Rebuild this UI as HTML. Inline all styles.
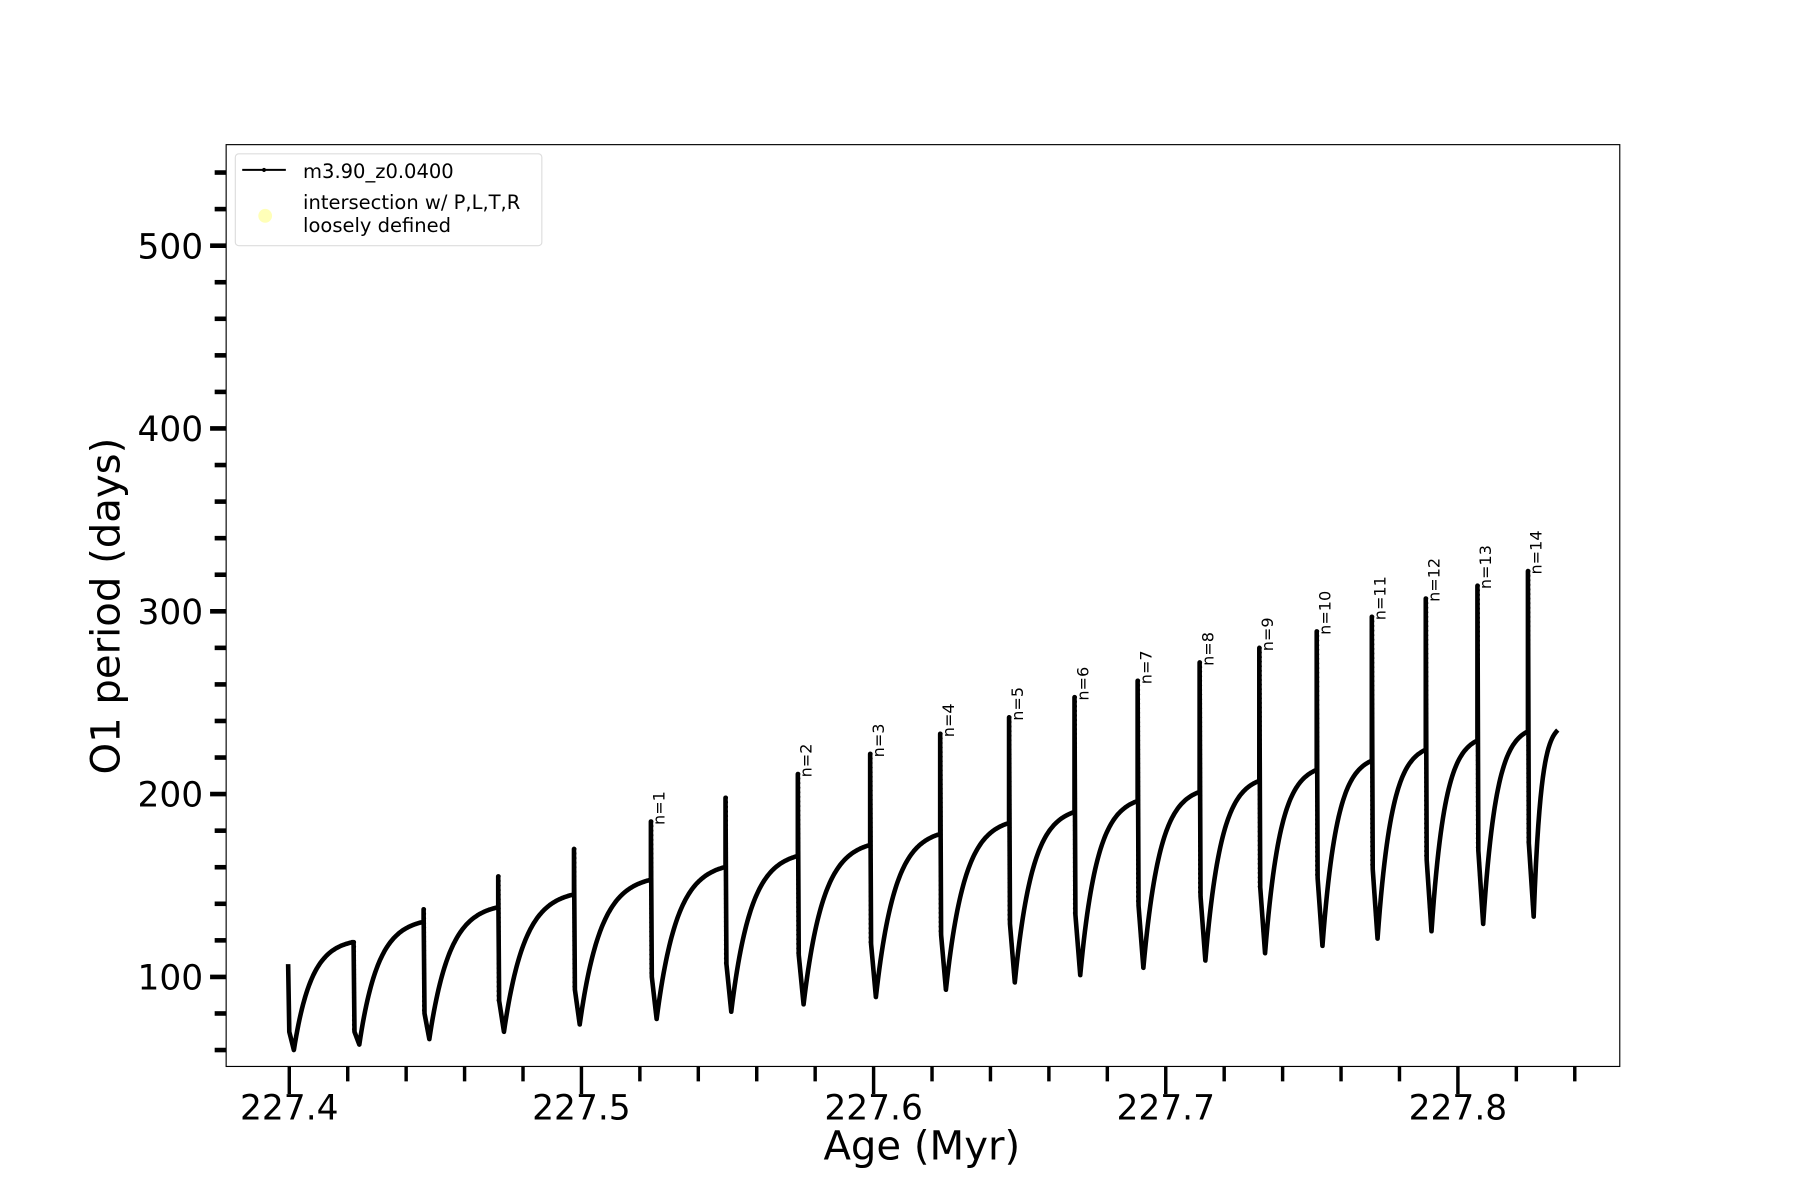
<!DOCTYPE html>
<html><head><meta charset="utf-8"><style>
html,body{margin:0;padding:0;background:#fff;width:1800px;height:1200px;overflow:hidden}
svg{display:block}
text{font-family:"DejaVu Sans","Liberation Sans",sans-serif;fill:#000}
</style></head><body>
<svg id="s" width="1800" height="1200" viewBox="0 0 1568 1045.33" xmlns="http://www.w3.org/2000/svg">
<rect x="197" y="126" width="1214" height="803" fill="none" stroke="#000" stroke-width="1"/>
<g id="ticks"></g>
<g id="data"></g>
<text x="803" y="1010" font-size="35" text-anchor="middle">Age (Myr)</text>
<text transform="translate(104,528) rotate(-90)" font-size="35" text-anchor="middle">O1 period (days)</text>
<rect x="205" y="134" width="267" height="80" rx="3" fill="#fff" stroke="#ddd" stroke-width="1"/>
<line x1="211" y1="148" x2="249" y2="148" stroke="#000" stroke-width="1.8"/>
<circle cx="230" cy="148" r="1.8" fill="#000"/>
<circle cx="231" cy="188" r="6" fill="#ffffb8"/>
<text x="264" y="155" font-size="17">m3.90_z0.0400</text>
<text x="264" y="182" font-size="17">intersection w/ P,L,T,R</text>
<text x="264" y="202" font-size="17">loosely defined</text>
</svg>
<script>
const yv=v=>851-(v-100)*1.5925;
const tk=document.getElementById('ticks');
let h='';
for(let v=60;v<=540;v+=20){const y=yv(v);const maj=v%100==0;
 h+=`<line x1="${maj?183:187}" x2="197" y1="${y}" y2="${y}" stroke="#000" stroke-width="4"/>`;
 if(maj)h+=`<text x="177" y="${y+11}" font-size="30" text-anchor="end">${v}</text>`;}
for(let i=0;i<=22;i++){const x=252+i*0.02*2545;const maj=i%5==0;
 h+=`<line x1="${x}" x2="${x}" y1="929" y2="${maj?953:942}" stroke="#000" stroke-width="3"/>`;
 if(maj)h+=`<text x="${x}" y="975" font-size="30" text-anchor="middle">${(227.4+i*0.02).toFixed(1)}</text>`;}
tk.innerHTML=h;
const sp=[308,369,434,500,567,632,695,758,819,879,936,991,1045,1097,1147,1195,1242,1287,1331];
const S=[70,137,155,170,185,198,211,222,233,242,253,262,272,280,289,297,307,314,322];
const P=[119,130,138,145,153,160,166,172,178,184,190,196,201,207,213,218,224,229,234];
const B=[70,80,87,93,100,107,112,118,123,129,134,139,144,149,154,159,164,169,173];
const M=[63,66,70,74,77,81,85,89,93,97,101,105,109,113,117,121,125,129,133];
let d='M251,'+yv(107)+' L252,'+yv(70)+' L256,'+yv(60);
let dots='';
function rise(x0,m,x1,p){const L=x1-x0,tau=0.3*L;
 for(let x=x0;x<=x1;x+=1){const v=p-(p-m)*(Math.exp(-(x-x0)/tau)-Math.exp(-L/tau))/(1-Math.exp(-L/tau));d+=` L${x},${yv(v).toFixed(1)}`;}}
rise(256,60,sp[0]-1,P[0]);
for(let k=0;k<sp.length;k++){const x=sp[k];
 const top=yv(Math.max(S[k],P[k])), bot=yv(B[k]);
 d+=` L${x},${yv(P[k])} L${x},${top} L${x+0.8},${bot} L${x+5},${yv(M[k])}`;
 for(let y=top;y<=bot;y+=4)dots+=`<circle cx="${x+0.4}" cy="${y.toFixed(1)}" r="1.8"/>`;
 for(let j=0;j<=6;j++){const yy=bot+(yv(M[k])-bot)*j/6;dots+=`<circle cx="${(x+0.8+4.2*j/6).toFixed(1)}" cy="${yy.toFixed(1)}" r="1.8"/>`;}
 const xe=k+1<sp.length?sp[k+1]-1:1357, pe=k+1<sp.length?P[k+1]:235;
 rise(x+5,M[k],xe,pe);}
const g=document.getElementById('data');
let out=`<path d="${d}" fill="none" stroke="#000" stroke-width="4" stroke-linejoin="round"/><g fill="#000">${dots}</g>`;
const nstart=[567,695,758,819,879,936,991,1045,1097,1147,1195,1242,1287,1331];
const ns=[185,211,222,233,242,253,262,272,280,289,297,307,314,322];
nstart.forEach((x,i)=>{const y=yv(ns[i])+3;
 out+=`<text transform="translate(${x+12},${y}) rotate(-90)" font-size="14">n=${i+1}</text>`;});
g.innerHTML=out;
</script>
</body></html>
